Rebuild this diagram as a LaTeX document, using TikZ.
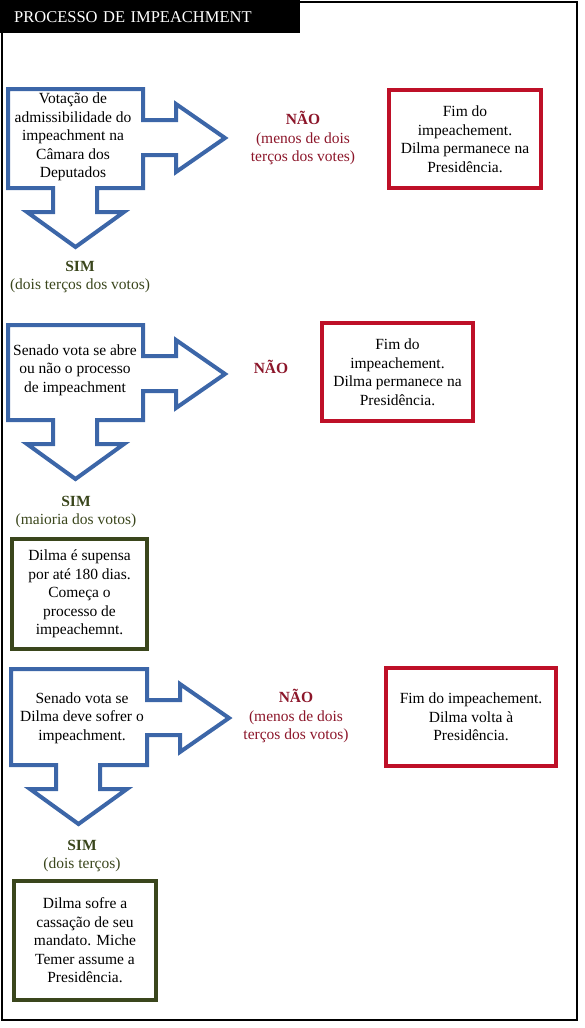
\documentclass[tikz,border=0pt]{standalone}
\usepackage{fontspec}
\setmainfont{Liberation Serif}
\usepackage{xcolor}
\definecolor{impblue}{RGB}{60,102,168}
\definecolor{impred}{RGB}{190,16,40}
\definecolor{impdarkred}{RGB}{140,22,42}
\definecolor{impgreen}{RGB}{58,70,28}
\usepackage{tikz}
\usetikzlibrary{positioning}
\newcommand{\bodyfont}{\fontsize{15.5}{18.5}\selectfont}
% block arrow: body (left, top, right, bottom) with a right and a down arrow
\newcommand{\BlockArrow}[4]{%
  \draw[blockarrow] (#1,#2) -- (#3,#2) -- (#3,{#2+31}) -- ({#3+33},{#2+31})
    -- ({#3+33},{#2+15}) -- ({#3+82},{#2+49}) -- ({#3+33},{#2+83})
    -- ({#3+33},{#2+66}) -- (#3,{#2+66}) -- (#3,#4)
    -- ({#1+89},#4) -- ({#1+89},{#4+24}) -- ({#1+116},{#4+24})
    -- ({#1+67.5},{#4+59}) -- ({#1+19},{#4+24}) -- ({#1+45},{#4+24})
    -- ({#1+45},#4) -- (#1,#4) -- cycle;}

\begin{document}
\begin{tikzpicture}[
    x=1pt, y=-1pt,
    blockarrow/.style={draw=impblue, line width=4pt, line join=miter},
    arrowtext/.style={font=\bodyfont, align=center, inner sep=0pt},
    endbox/.style={draw=impred, line width=4pt, font=\bodyfont, align=center,
                   inner sep=2pt, minimum height=98pt},
    yesbox/.style={draw=impgreen, line width=4pt, font=\bodyfont, align=center,
                   inner sep=2pt},
    nolabel/.style={font=\bodyfont, text=impdarkred, align=center},
    yeslabel/.style={font=\bodyfont, text=impgreen, align=center},
    titlebar/.style={fill=black, text=white, font=\fontsize{16.5}{18}\selectfont,
                     anchor=north west, minimum height=33pt, text width=272pt,
                     inner xsep=14pt, inner ysep=0pt, align=left},
  ]
    \useasboundingbox (0,0) rectangle (584,1028);

    % --- Frame and title ---
    \draw[line width=1.2pt] (2,33) -- (2,1020) -- (577,1020) -- (577,2) -- (300,2);
    \node[titlebar] (title) at (0,0) {PROCESSO DE IMPEACHMENT};

    % --- Camara dos Deputados ---
    \BlockArrow{8}{89}{143}{188}
    \node[arrowtext] (camara) at (73,137)
      {Votação de\\admissibilidade do\\impeachment na\\Câmara dos\\Deputados};
    \node[nolabel] (nao1) at (303,138) {\textbf{NÃO}\\(menos de dois\\terços dos votes)};
    \node[endbox, minimum width=152pt] (fim1) at (465,139)
      {Fim do\\impeachement.\\Dilma permanece na\\Presidência.};
    \node[yeslabel] (sim1) at (80,277) {\textbf{SIM}\\(dois terços dos votos)};

    % --- Senado: abertura ---
    \BlockArrow{8}{325}{143}{420}
    \node[arrowtext] (senado1) at (75,370)
      {Senado vota se abre\\ou não o processo\\de impeachment};
    \node[nolabel] (nao2) at (271,367) {\textbf{NÃO}};
    \node[endbox, minimum width=151pt] (fim2) at (397.5,372)
      {Fim do\\impeachement.\\Dilma permanece na\\Presidência.};
    \node[yeslabel] (sim2) at (76,512) {\textbf{SIM}\\(maioria dos votos)};
    \node[yesbox, minimum width=135pt, minimum height=110pt] (suspensa) at (79.5,594)
      {Dilma é supensa\\por até 180 dias.\\Começa o\\processo de\\impeachemnt.};

    % --- Senado: julgamento ---
    \BlockArrow{11}{669}{147}{765}
    \node[arrowtext] (senado2) at (82,718)
      {Senado vota se\\Dilma deve sofrer o\\impeachment.};
    \node[nolabel] (nao3) at (296,716) {\textbf{NÃO}\\(menos de dois\\terços dos votos)};
    \node[endbox, minimum width=170pt] (fim3) at (471,717)
      {Fim do impeachement.\\Dilma volta à\\Presidência.};
    \node[yeslabel] (sim3) at (82,856) {\textbf{SIM}\\(dois terços)};
    \node[yesbox, minimum width=142pt, minimum height=119pt] (cassacao) at (85,940.5)
      {Dilma sofre a\\cassação de seu\\mandato. Miche\\Temer assume a\\Presidência.};
  \end{tikzpicture}
\end{document}
